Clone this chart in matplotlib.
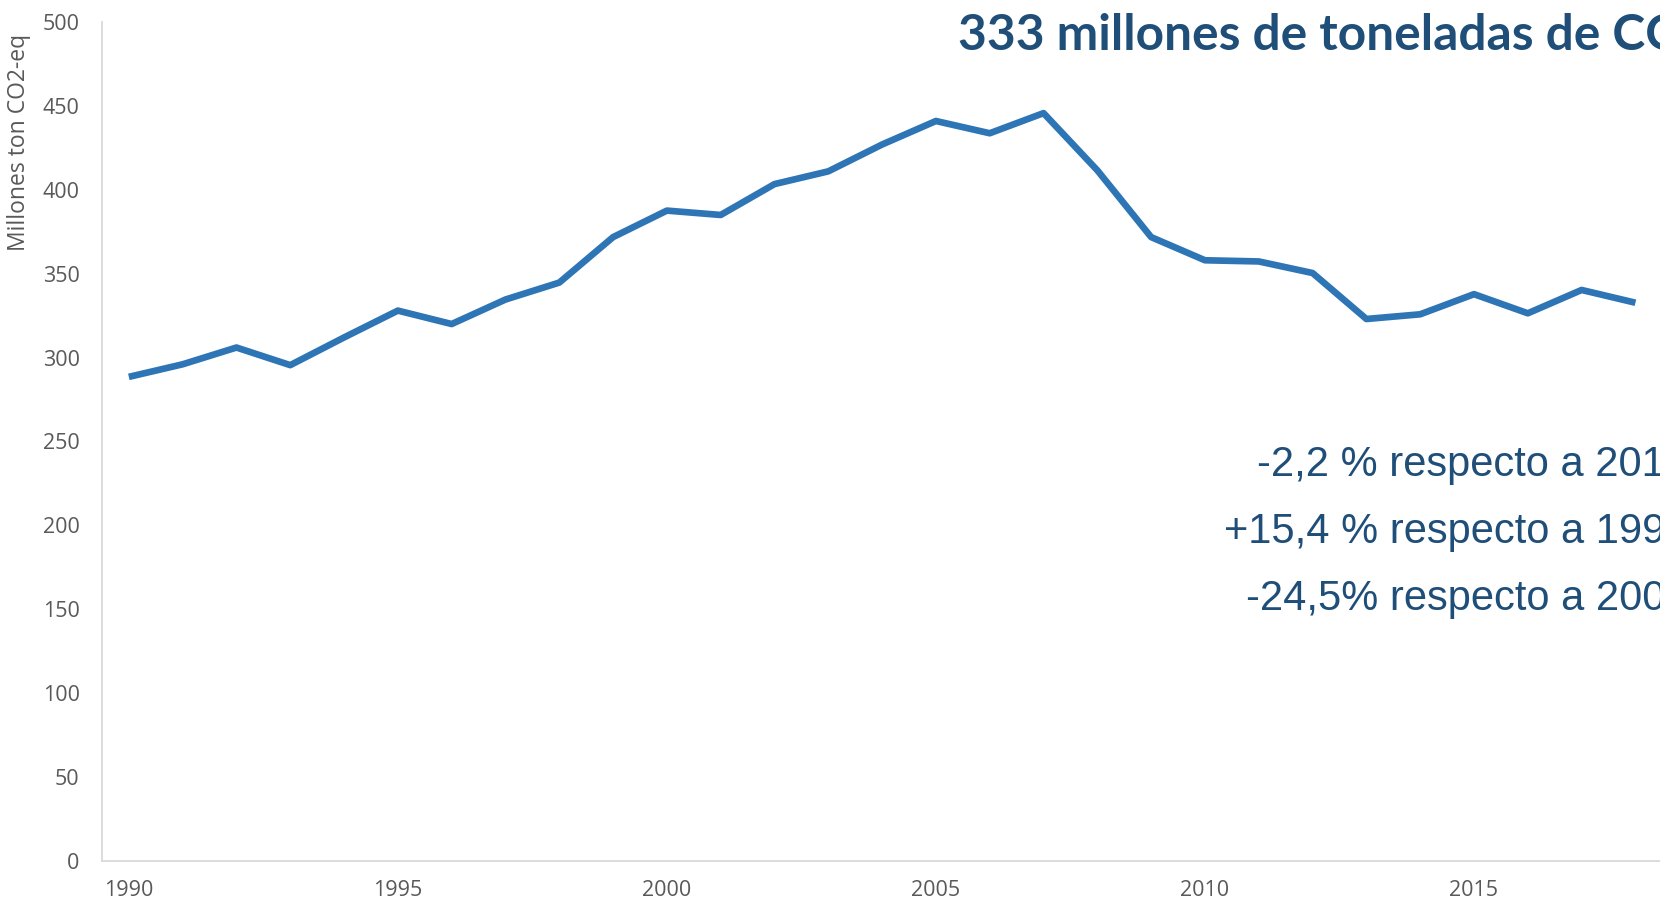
import numpy as np
import matplotlib
matplotlib.use("Agg")
import matplotlib.pyplot as plt

# Emisiones GEI (millones t CO2-eq)
years = list(range(1990, 2019))
emisiones = [288.5, 296, 306, 295.5, 312, 328, 320, 334.6, 344.7, 371.8,
             387.6, 385, 403.4, 411, 427, 441, 433.7, 445.7, 411.6, 371.8,
             358, 357.3, 350.4, 323, 325.8, 337.8, 326.4, 340.3, 332.7]
x_ticks = [1990, 1995, 2000, 2005, 2010, 2015]
y_ticks = [0, 50, 100, 150, 200, 250, 300, 350, 400, 450, 500]

titulo = "333 millones de toneladas de CO2-eq"
notas = ["-2,2 % respecto a 2017",
         "+15,4 % respecto a 1990",
         "-24,5% respecto a 2005"]

gris = "#595959"
azul_oscuro = "#1F4E79"

fig = plt.figure(figsize=(16.6, 9.02), dpi=100)
ax = fig.add_axes([0.0614, 0.0455, 0.94, 0.9301])

ax.plot(years, emisiones, color="#2E75B6", linewidth=4.8, solid_capstyle="butt")

ax.set_xlim(1989.5, 2018.5)
ax.set_ylim(0, 500)
ax.set_xticks(x_ticks)
ax.set_yticks(y_ticks)
ax.tick_params(axis="x", length=0, labelsize=15.5, labelcolor=gris, pad=14)
ax.tick_params(axis="y", length=0, labelsize=15.5, labelcolor=gris, pad=16)
for lab in ax.get_xticklabels() + ax.get_yticklabels():
    lab.set_fontfamily("Open Sans")

for s in ["top", "right"]:
    ax.spines[s].set_visible(False)
for s in ["left", "bottom"]:
    ax.spines[s].set_color("#d9d9d9")
    ax.spines[s].set_linewidth(1.3)

fig.text(0.0115, 0.8426, "Millones ton CO2-eq", rotation=90, ha="center", va="center",
         fontsize=16.5, color=gris, fontfamily="Open Sans")

fig.text(0.577, 0.945, titulo, fontsize=35.7, fontweight="bold", color=azul_oscuro,
         fontfamily="Lato", ha="left", va="baseline")

# texto alineado a la derecha, cortado por el borde como en el original
for i, t in enumerate(notas):
    fig.text(1.017, 0.4723 - i * 0.0743, t, fontsize=30, color=azul_oscuro,
             fontfamily="Liberation Sans", ha="right", va="baseline")

fig.savefig("out.png", dpi=100)
